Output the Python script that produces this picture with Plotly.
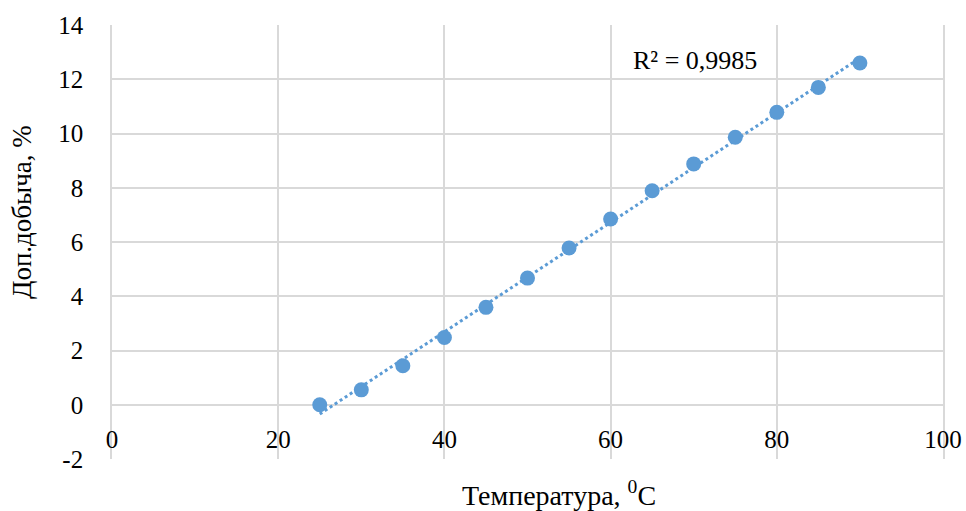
import numpy as np
import plotly.graph_objects as go

temps = [25, 30, 35, 40, 45, 50, 55, 60, 65, 70, 75, 80, 85, 90]
extra_yield = [0.0, 0.55, 1.44, 2.48, 3.59, 4.67, 5.78, 6.85, 7.89, 8.88, 9.86, 10.78, 11.70, 12.6]
x_ticks = [0, 20, 40, 60, 80, 100]
y_ticks = [-2, 0, 2, 4, 6, 8, 10, 12, 14]
y_tick_text = ["-2", "0", "2", "4", "6", "8", "10", "12", "14"]
r2_label = "R² = 0,9985"
x_title = "Температура, <sup>0</sup>C"
y_title = "Доп.добыча, %"

color = "#5B9BD5"
grid = "#D9D9D9"
font = "Liberation Serif"

slope, intercept = np.polyfit(temps, extra_yield, 1)
tx = [temps[0], temps[-1]]
ty = [slope * v + intercept for v in tx]

fig = go.Figure()
fig.add_trace(go.Scatter(x=tx, y=ty, mode="lines",
                         line=dict(color=color, width=3, dash="dot"),
                         hoverinfo="skip", showlegend=False))
fig.add_trace(go.Scatter(x=temps, y=extra_yield, mode="markers",
                         marker=dict(color=color, size=15),
                         showlegend=False))

L, R, T, B = 112, 23, 25, 52
W, H = 966, 511
pw, ph = W - L - R, H - T - B

def px(x):
    return (x - L) / pw

def py(y):
    return 1 - (y - T) / ph

fig.update_layout(
    width=W, height=H,
    margin=dict(l=L, r=R, t=T, b=B),
    plot_bgcolor="white", paper_bgcolor="white",
    font=dict(family=font, size=25, color="#000000"),
    xaxis=dict(range=[0, 100], tickvals=x_ticks, showgrid=True, gridcolor=grid,
               gridwidth=1.6, zeroline=False, showline=False,
               anchor="free", position=0.125, ticks="", automargin=False,
               ticklabelstandoff=17, tickfont=dict(size=25, family=font)),
    yaxis=dict(range=[-2, 14], tickvals=y_ticks, ticktext=y_tick_text,
               showgrid=True, gridcolor=grid,
               gridwidth=1.6, zeroline=False, showline=True, mirror=True,
               linecolor=grid, linewidth=1.6, ticks="", automargin=False,
               ticklabelstandoff=22, tickfont=dict(size=25, family=font)),
    annotations=[
        dict(text=r2_label, x=px(695), y=py(60), xref="paper", yref="paper",
             xanchor="center", yanchor="middle",
             showarrow=False, font=dict(size=26, family=font)),
        dict(text=x_title, x=px(559), y=py(494), xref="paper", yref="paper",
             xanchor="center", yanchor="middle",
             showarrow=False, font=dict(size=28, family=font)),
        dict(text=y_title, x=px(22), y=py(212), xref="paper", yref="paper",
             xanchor="center", yanchor="middle",
             showarrow=False, textangle=-90, font=dict(size=27, family=font)),
    ],
)

fig.write_html("out.html")
